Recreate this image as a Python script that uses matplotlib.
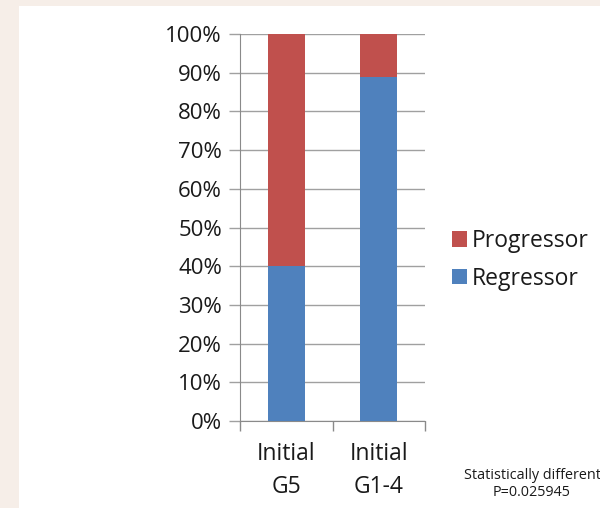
import matplotlib
matplotlib.use("Agg")
import matplotlib.pyplot as plt
from matplotlib.patches import Rectangle, Patch
import numpy as np

categories = ["Initial\nG5", "Initial\nG1-4"]
regressor = [40, 89]
progressor = [60, 11]
yticks = [0, 10, 20, 30, 40, 50, 60, 70, 80, 90, 100]

plt.rcParams['font.family'] = ['Open Sans', 'DejaVu Sans']

fig = plt.figure(figsize=(6, 5.08), dpi=100)
fig.patch.set_facecolor('#f6eee8')
fig.add_artist(Rectangle((19/600, 0), 1, (508-6)/508, transform=fig.transFigure,
                         facecolor='white', edgecolor='none', zorder=0))

ax = fig.add_axes([240/600, (508-421)/508, 185/600, (421-34)/508])
ax.set_facecolor('white')
x = np.arange(len(categories))
blue = '#4f81bd'
red = '#c0504d'
ax.bar(x, regressor, width=0.4, color=blue, zorder=3, label='Regressor')
ax.bar(x, progressor, width=0.4, bottom=regressor, color=red, zorder=3, label='Progressor')

ax.set_ylim(0, 100)
ax.set_xlim(-0.5, 1.5)
ax.set_yticks(yticks)
ax.set_yticklabels([f"{v}%" for v in yticks])
ax.yaxis.grid(True, color='#a0a0a0', linewidth=1.0, zorder=0)
ax.set_axisbelow(True)
for s in ['top', 'right']:
    ax.spines[s].set_visible(False)
ax.spines['left'].set_color('#8a8a8a')
ax.spines['bottom'].set_color('#8a8a8a')
ax.tick_params(axis='y', length=8, width=1, color='#a0a0a0', labelsize=16, labelcolor='#1a1a1a', pad=5)
ax.set_xticks([-0.5, 0.5, 1.5], minor=False)
ax.set_xticklabels([])
ax.tick_params(axis='x', length=7, width=1, color='#8a8a8a')
ax.set_xticks(x, minor=True)
ax.set_xticklabels(categories, minor=True)
ax.tick_params(axis='x', which='minor', length=0, labelsize=16.5, labelcolor='#1a1a1a', pad=15)
for lbl in ax.get_xticklabels(minor=True):
    lbl.set_linespacing(1.5)

handles = [Patch(facecolor=red, label='Progressor'), Patch(facecolor=blue, label='Regressor')]
fig.legend(handles=handles, loc='center left', bbox_to_anchor=(431/600, 1 - 260/508),
           frameon=False, fontsize=16.5, handlelength=0.65, handleheight=0.65,
           handletextpad=0.25, labelspacing=0.6, labelcolor='#1a1a1a')

fig.text(532/600, 1 - 484/508, "Statistically different\nP=0.025945", ha='center', va='center',
         fontsize=10.4, color='#1a1a1a', linespacing=1.2)

fig.savefig('out.png', dpi=100, facecolor=fig.get_facecolor())
